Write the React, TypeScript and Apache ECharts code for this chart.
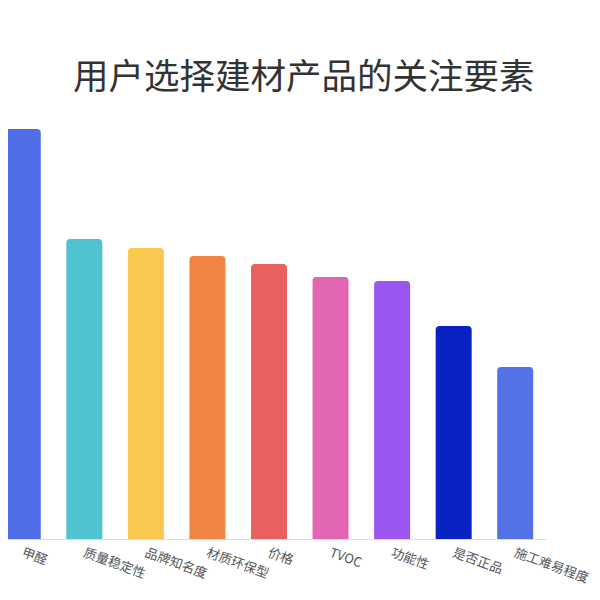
import React, { useEffect, useRef } from 'react';
import * as echarts from 'echarts';

const categories = ['甲醛', '质量稳定性', '品牌知名度', '材质环保型', '价格', 'TVOC', '功能性', '是否正品', '施工难易程度'];
const values = [82, 60, 58.2, 56.6, 55, 52.4, 51.6, 42.6, 34.4];
const barColors = ['#4f6ee8', '#4fc3cf', '#f7c94f', '#ef8540', '#e8615e', '#e266b3', '#9b55f0', '#0a22c2', '#5272e6'];

const App: React.FC = () => {
  const chartRef = useRef<HTMLDivElement>(null);

  useEffect(() => {
    const chart = echarts.init(chartRef.current!, undefined, { renderer: 'svg' });

    const option = {
      animation: false,
      title: {
        text: '用户选择建材产品的关注要素',
        left: 76,
        top: 51,
        textStyle: {
          fontFamily: 'Noto Sans CJK SC',
          fontSize: 35.5,
          fontWeight: 'normal',
          color: '#333',
        },
      },
      grid: { left: 0, right: 54, top: 39, bottom: 61 },
      xAxis: {
        type: 'category',
        data: categories,
        axisLine: { lineStyle: { color: '#dcdcdc' } },
        axisTick: { alignWithLabel: true, length: 4, lineStyle: { color: '#dcdcdc' } },
        axisLabel: {
          rotate: -20,
          margin: 12,
          fontSize: 13,
          color: '#555',
          fontFamily: 'Noto Sans CJK SC',
        },
      },
      yAxis: {
        type: 'value',
        min: 0,
        max: 100,
        show: false,
      },
      series: [
        {
          type: 'bar',
          barWidth: 36,
          data: values.map((v, i) => ({
            value: v,
            itemStyle: { color: barColors[i], borderRadius: [4, 4, 0, 0] },
          })),
        },
      ],
    };

    chart.setOption(option);

    return () => {
      chart.dispose();
    };
  }, []);

  // shifted left so the first category starts just outside the page, as in the reference crop
  return <div ref={chartRef} style={{ width: 608, height: 600, margin: '-8px 0 0 -16px' }} />;
};

export default App;
